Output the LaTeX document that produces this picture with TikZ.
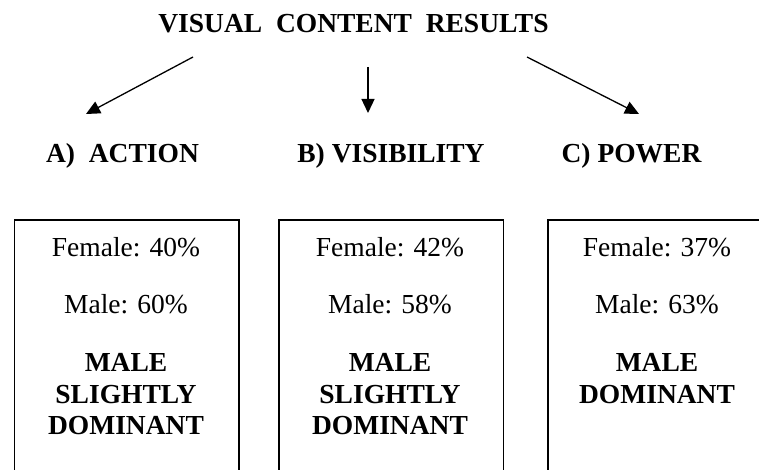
\documentclass[tikz,border=0pt]{standalone}
\usepackage{fontspec}
\setmainfont{Liberation Serif}
\usetikzlibrary{arrows.meta}
\tikzset{
  txt/.style={inner sep=0pt, anchor=base, font=\fontsize{27.5}{30}\selectfont},
  btxt/.style={txt, font=\fontsize{27.5}{30}\selectfont\bfseries},
  resbox/.style={draw, line width=1.5pt, anchor=north west, inner sep=0pt},
  conn/.style={line width=1.3pt, -{Triangle[length=14pt,width=13pt]}}
}
\begin{document}
\begin{tikzpicture}[x=1pt,y=-1pt]
\useasboundingbox (0,0) rectangle (759,470);
\clip (0,0) rectangle (759,470);
% title
\node[btxt] (title) at (353.5,33) {VISUAL\ \ CONTENT\ \ RESULTS};
% category labels
\node[btxt] (la) at (122.5,163) {A)\ \ ACTION};
\node[btxt] (lb) at (391,163) {B) VISIBILITY};
\node[btxt] (lc) at (631.5,163) {C) POWER};
% arrow ends
\coordinate (s1) at (193,57);
\coordinate (e1) at (86,114);
\coordinate (s2) at (368,67);
\coordinate (e2) at (368,113);
\coordinate (s3) at (527,57);
\coordinate (e3) at (639,114);
\draw[conn] (s1) -- (e1);
\draw[conn] (s2) -- (e2);
\draw[conn] (s3) -- (e3);
% boxes
\node[resbox, minimum width=224.5pt, minimum height=280pt] (b1) at (13.5,219.3) {};
\node[resbox, minimum width=224.5pt, minimum height=280pt] (b2) at (278,219.3) {};
\node[resbox, minimum width=220pt, minimum height=280pt] (b3) at (547,219.3) {};
% box 1 text
\node[txt] (b1f) at (126,256) {Female: 40\%};
\node[txt] (b1m) at (126,313) {Male: 60\%};
\node[btxt] (b1a) at (126,371) {MALE};
\node[btxt] (b1b) at (126,403) {SLIGHTLY};
\node[btxt] (b1c) at (126,434) {DOMINANT};
% box 2 text
\node[txt] (b2f) at (390,256) {Female: 42\%};
\node[txt] (b2m) at (390,313) {Male: 58\%};
\node[btxt] (b2a) at (390,371) {MALE};
\node[btxt] (b2b) at (390,403) {SLIGHTLY};
\node[btxt] (b2c) at (390,434) {DOMINANT};
% box 3 text
\node[txt] (b3f) at (657,256) {Female: 37\%};
\node[txt] (b3m) at (657,313) {Male: 63\%};
\node[btxt] (b3a) at (657,371) {MALE};
\node[btxt] (b3b) at (657,403) {DOMINANT};
\end{tikzpicture}
\end{document}
